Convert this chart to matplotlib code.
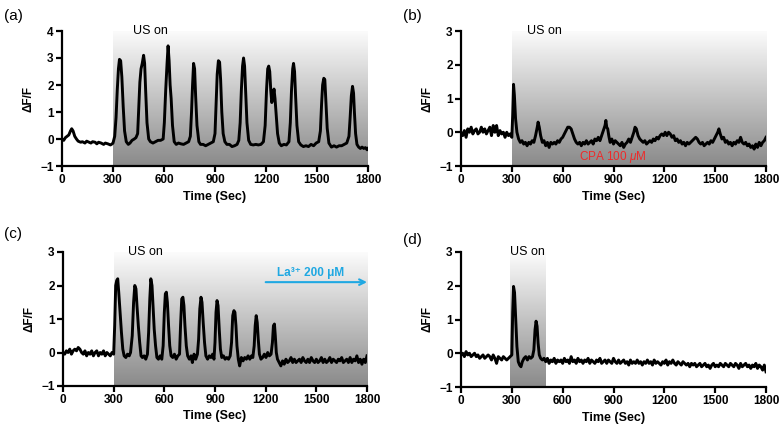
import numpy as np
import matplotlib
matplotlib.use("Agg")
import matplotlib.pyplot as plt
from matplotlib.colors import LinearSegmentedColormap

plt.rcParams['font.family'] = ['Liberation Sans', 'DejaVu Sans']
plt.rcParams['mathtext.fontset'] = 'custom'
plt.rcParams['mathtext.rm'] = 'Liberation Sans'
plt.rcParams['mathtext.it'] = 'Liberation Sans:italic'
plt.rcParams['mathtext.bf'] = 'Liberation Sans:bold'

# ---------------- data (time in s, dF/F) ----------------
trace_a = [(0, 0.0), (10, -0.05), (20, 0.05), (30, 0.1), (40, 0.15), (50, 0.3), (57, 0.38), (65, 0.3),
           (75, 0.1), (85, 0.0), (95, -0.08), (110, -0.12), (120, -0.1), (135, -0.15), (145, -0.08),
           (160, -0.12), (170, -0.15), (180, -0.1), (195, -0.12), (205, -0.18), (215, -0.12), (230, -0.15),
           (245, -0.2), (255, -0.15), (270, -0.18), (285, -0.22), (295, -0.18), (300, -0.15), (310, 0.1),
           (318, 0.8), (325, 1.8), (332, 2.6), (338, 2.95), (345, 2.9), (352, 2.3), (360, 1.2), (368, 0.3),
           (378, -0.1), (390, -0.2), (400, -0.15), (412, -0.05), (425, 0.0), (435, 0.05), (445, 0.2),
           (452, 1.2), (458, 2.1), (465, 2.6), (472, 2.8), (480, 3.1), (486, 2.8), (492, 1.8), (500, 0.6),
           (510, 0.0), (520, -0.1), (535, -0.15), (550, -0.1), (565, -0.05), (580, -0.05), (595, 0.0),
           (602, 0.6), (610, 1.8), (618, 2.8), (624, 3.45), (630, 2.9), (636, 2.0), (642, 1.5), (650, 0.5),
           (660, -0.1), (672, -0.2), (685, -0.15), (700, -0.18), (715, -0.2), (730, -0.15), (745, -0.1),
           (755, 0.1), (762, 1.0), (768, 2.0), (774, 2.8), (780, 2.6), (786, 1.6), (794, 0.5), (805, -0.1),
           (815, -0.2), (830, -0.2), (845, -0.25), (860, -0.2), (875, -0.15), (890, -0.1), (900, 0.2),
           (907, 1.4), (913, 2.4), (920, 2.9), (927, 2.85), (933, 2.2), (940, 1.0), (948, 0.2), (958, -0.1),
           (970, -0.2), (985, -0.2), (1000, -0.28), (1015, -0.25), (1030, -0.2), (1040, -0.05), (1048, 0.6),
           (1055, 1.8), (1062, 2.7), (1068, 3.0), (1074, 2.7), (1080, 1.8), (1088, 0.6), (1098, -0.05),
           (1110, -0.2), (1125, -0.22), (1140, -0.2), (1155, -0.22), (1170, -0.2), (1185, -0.1), (1195, 0.5),
           (1203, 1.8), (1210, 2.6), (1216, 2.7), (1222, 2.5), (1228, 1.8), (1234, 1.35), (1240, 1.5),
           (1247, 1.85), (1253, 1.5), (1260, 0.9), (1268, 0.2), (1278, -0.15), (1290, -0.25), (1305, -0.2),
           (1320, -0.22), (1335, -0.1), (1343, 0.6), (1350, 1.8), (1357, 2.6), (1362, 2.8), (1368, 2.5),
           (1374, 1.6), (1382, 0.5), (1392, -0.1), (1405, -0.22), (1420, -0.28), (1435, -0.25), (1450, -0.28),
           (1465, -0.2), (1480, -0.25), (1495, -0.15), (1510, -0.1), (1520, 0.3), (1527, 1.3), (1533, 2.0),
           (1540, 2.25), (1546, 2.2), (1552, 1.4), (1560, 0.4), (1570, -0.15), (1585, -0.3), (1600, -0.25),
           (1615, -0.3), (1630, -0.25), (1645, -0.25), (1660, -0.2), (1675, -0.15), (1688, 0.1), (1695, 0.8),
           (1702, 1.6), (1709, 1.95), (1715, 1.7), (1720, 1.0), (1727, 0.2), (1735, -0.2), (1745, -0.3),
           (1755, -0.35), (1765, -0.3), (1775, -0.35), (1785, -0.32), (1795, -0.4), (1800, -0.35)]

trace_b = [(0, 0.0), (10, -0.1), (20, 0.05), (30, -0.15), (40, 0.1), (50, 0.0), (60, 0.15), (70, -0.05),
           (80, 0.05), (90, 0.1), (100, -0.05), (110, 0.0), (120, 0.15), (130, 0.0), (140, 0.1), (150, -0.05),
           (160, 0.05), (170, 0.15), (180, -0.1), (190, 0.2), (200, 0.0), (210, 0.2), (220, -0.1), (230, 0.05),
           (240, -0.05), (250, 0.0), (260, -0.15), (270, 0.0), (280, -0.1), (290, -0.05), (300, -0.15),
           (305, 0.5), (310, 1.42), (315, 1.1), (322, 0.4), (330, 0.0), (340, -0.2), (350, -0.3), (360, -0.25),
           (370, -0.35), (380, -0.3), (390, -0.4), (400, -0.3), (410, -0.35), (420, -0.25), (430, -0.3),
           (440, -0.1), (450, 0.15), (455, 0.3), (462, 0.15), (470, -0.1), (480, -0.3), (490, -0.25),
           (500, -0.4), (510, -0.3), (520, -0.45), (530, -0.3), (540, -0.35), (550, -0.3), (560, -0.35),
           (570, -0.25), (580, -0.3), (590, -0.2), (600, -0.15), (610, -0.05), (620, 0.05), (630, 0.15),
           (640, 0.15), (650, 0.1), (660, -0.05), (670, -0.2), (680, -0.3), (690, -0.35), (700, -0.3),
           (710, -0.4), (720, -0.3), (730, -0.35), (740, -0.25), (750, -0.35), (760, -0.3), (770, -0.25),
           (780, -0.35), (790, -0.2), (800, -0.25), (810, -0.15), (820, -0.25), (830, -0.1), (840, 0.05),
           (850, 0.2), (855, 0.35), (860, 0.15), (866, 0.1), (872, -0.1), (880, -0.3), (890, -0.2), (900, -0.35),
           (910, -0.25), (920, -0.3), (930, -0.35), (940, -0.4), (950, -0.3), (960, -0.45), (970, -0.35),
           (980, -0.3), (990, -0.2), (1000, -0.3), (1010, -0.15), (1020, 0.0), (1027, 0.15), (1035, 0.1),
           (1045, -0.1), (1055, -0.2), (1065, -0.25), (1075, -0.3), (1085, -0.25), (1095, -0.35), (1105, -0.3),
           (1115, -0.25), (1125, -0.3), (1135, -0.2), (1145, -0.25), (1155, -0.15), (1165, -0.2), (1175, -0.1),
           (1185, -0.05), (1195, -0.1), (1205, 0.0), (1215, -0.1), (1225, 0.0), (1235, -0.05), (1245, -0.15),
           (1255, -0.1), (1265, -0.25), (1275, -0.2), (1285, -0.3), (1295, -0.25), (1305, -0.35), (1315, -0.3),
           (1325, -0.4), (1335, -0.3), (1345, -0.35), (1355, -0.3), (1365, -0.25), (1375, -0.2), (1385, -0.15),
           (1395, -0.2), (1405, -0.3), (1415, -0.35), (1425, -0.3), (1435, -0.4), (1445, -0.35), (1455, -0.3),
           (1465, -0.35), (1475, -0.25), (1485, -0.3), (1495, -0.2), (1505, -0.1), (1515, 0.0), (1522, 0.1),
           (1530, -0.05), (1540, -0.2), (1550, -0.15), (1560, -0.3), (1570, -0.25), (1580, -0.35), (1590, -0.3),
           (1600, -0.4), (1610, -0.3), (1620, -0.35), (1630, -0.25), (1640, -0.3), (1650, -0.15), (1660, -0.3),
           (1670, -0.35), (1680, -0.3), (1690, -0.4), (1700, -0.35), (1710, -0.45), (1720, -0.4), (1730, -0.5),
           (1740, -0.35), (1750, -0.45), (1760, -0.3), (1770, -0.4), (1780, -0.3), (1790, -0.25), (1800, -0.15)]

trace_c = [(0, 0.0), (10, -0.05), (20, 0.05), (30, 0.0), (40, 0.1), (50, -0.05), (60, 0.05), (70, 0.1),
           (80, 0.05), (90, 0.15), (100, 0.1), (110, 0.0), (120, -0.05), (130, 0.05), (140, -0.1), (150, 0.0),
           (160, -0.05), (170, 0.05), (180, -0.1), (190, 0.0), (200, 0.05), (210, -0.1), (220, 0.0),
           (230, -0.05), (240, 0.05), (250, -0.1), (260, 0.0), (270, -0.05), (280, -0.1), (290, 0.0),
           (300, -0.05), (306, 0.8), (312, 2.0), (318, 2.15), (324, 2.2), (330, 1.8), (338, 1.2), (346, 0.6),
           (354, 0.1), (362, -0.1), (372, -0.15), (382, -0.05), (392, -0.1), (400, 0.0), (410, 0.5), (418, 1.5),
           (425, 2.0), (432, 1.9), (438, 1.4), (446, 0.8), (454, 0.3), (462, -0.1), (470, -0.15), (480, -0.1),
           (490, -0.2), (500, -0.05), (507, 0.6), (514, 1.6), (520, 2.2), (527, 2.0), (533, 1.4), (540, 0.7),
           (548, 0.2), (556, -0.15), (565, -0.2), (575, -0.1), (585, -0.2), (593, 0.2), (600, 1.2), (606, 1.75),
           (612, 1.8), (618, 1.5), (625, 0.8), (632, 0.2), (640, -0.1), (650, -0.15), (660, -0.05), (670, -0.2),
           (680, -0.1), (690, -0.05), (696, 0.8), (703, 1.6), (710, 1.65), (716, 1.4), (722, 0.8), (730, 0.2),
           (738, -0.1), (748, -0.2), (758, -0.1), (766, -0.3), (776, -0.05), (786, -0.2), (796, -0.05),
           (803, 0.4), (810, 1.3), (817, 1.65), (823, 1.5), (830, 0.9), (838, 0.3), (846, -0.1), (856, -0.2),
           (866, -0.1), (876, -0.15), (886, -0.05), (894, -0.2), (900, 0.3), (906, 1.2), (912, 1.55),
           (918, 1.4), (925, 0.7), (932, 0.1), (940, -0.15), (950, -0.1), (960, -0.2), (970, -0.15),
           (980, -0.2), (990, -0.1), (998, 0.3), (1005, 1.1), (1012, 1.25), (1018, 1.2), (1024, 0.8),
           (1030, 0.2), (1038, -0.2), (1046, -0.4), (1056, -0.15), (1066, -0.25), (1076, -0.15), (1086, -0.2),
           (1096, -0.1), (1106, -0.2), (1116, -0.1), (1124, -0.15), (1132, 0.2), (1138, 0.8), (1144, 1.1),
           (1150, 0.9), (1156, 0.4), (1163, -0.05), (1172, -0.2), (1182, -0.15), (1192, -0.05), (1202, -0.15),
           (1212, 0.0), (1222, -0.1), (1232, -0.05), (1240, 0.3), (1246, 0.8), (1252, 0.85), (1257, 0.5),
           (1263, 0.0), (1270, -0.2), (1280, -0.3), (1290, -0.4), (1300, -0.25), (1310, -0.35), (1320, -0.2),
           (1330, -0.3), (1340, -0.25), (1350, -0.15), (1360, -0.3), (1370, -0.2), (1380, -0.3), (1390, -0.25),
           (1400, -0.2), (1410, -0.3), (1420, -0.15), (1430, -0.25), (1440, -0.3), (1450, -0.2), (1460, -0.3),
           (1470, -0.15), (1480, -0.25), (1490, -0.3), (1500, -0.2), (1510, -0.3), (1520, -0.25), (1530, -0.15),
           (1540, -0.3), (1550, -0.2), (1560, -0.3), (1570, -0.25), (1580, -0.15), (1590, -0.3), (1600, -0.2),
           (1610, -0.25), (1620, -0.3), (1630, -0.2), (1640, -0.25), (1650, -0.15), (1660, -0.3), (1670, -0.25),
           (1680, -0.2), (1690, -0.3), (1700, -0.15), (1710, -0.3), (1720, -0.2), (1730, -0.25), (1740, -0.1),
           (1750, -0.3), (1760, -0.2), (1770, -0.35), (1780, -0.2), (1790, -0.3), (1800, -0.1)]

trace_d = [(0, -0.05), (10, 0.0), (20, -0.1), (30, 0.05), (40, -0.05), (50, 0.0), (60, -0.1), (70, -0.05),
           (80, 0.0), (90, -0.1), (100, -0.05), (110, -0.15), (120, -0.1), (130, -0.05), (140, -0.15),
           (150, -0.1), (160, -0.05), (170, -0.1), (180, -0.2), (190, -0.05), (200, -0.15), (210, -0.3),
           (220, -0.1), (230, -0.15), (240, -0.2), (250, -0.1), (260, -0.15), (270, -0.2), (280, -0.15),
           (290, -0.1), (300, -0.05), (305, 1.2), (310, 1.98), (316, 1.8), (322, 1.1), (330, 0.2), (338, -0.25),
           (346, -0.35), (354, -0.4), (362, -0.25), (372, -0.15), (382, -0.1), (392, -0.2), (402, -0.1),
           (412, -0.15), (422, -0.1), (430, 0.1), (437, 0.7), (443, 0.95), (449, 0.8), (455, 0.3), (462, -0.05),
           (470, -0.15), (480, -0.2), (490, -0.15), (500, -0.25), (510, -0.15), (520, -0.3), (530, -0.2),
           (540, -0.25), (550, -0.15), (560, -0.3), (570, -0.2), (580, -0.25), (590, -0.2), (600, -0.3),
           (610, -0.15), (620, -0.25), (630, -0.2), (640, -0.3), (650, -0.1), (660, -0.25), (670, -0.2),
           (680, -0.3), (690, -0.15), (700, -0.25), (710, -0.2), (720, -0.3), (730, -0.2), (740, -0.25),
           (750, -0.15), (760, -0.3), (770, -0.2), (780, -0.25), (790, -0.3), (800, -0.2), (810, -0.25),
           (820, -0.15), (830, -0.3), (840, -0.25), (850, -0.2), (860, -0.3), (870, -0.2), (880, -0.25),
           (890, -0.3), (900, -0.15), (910, -0.25), (920, -0.3), (930, -0.2), (940, -0.3), (950, -0.25),
           (960, -0.2), (970, -0.3), (980, -0.25), (990, -0.35), (1000, -0.2), (1010, -0.3), (1020, -0.25),
           (1030, -0.3), (1040, -0.2), (1050, -0.3), (1060, -0.25), (1070, -0.35), (1080, -0.25), (1090, -0.3),
           (1100, -0.2), (1110, -0.3), (1120, -0.25), (1130, -0.35), (1140, -0.2), (1150, -0.3), (1160, -0.25),
           (1170, -0.3), (1180, -0.35), (1190, -0.25), (1200, -0.3), (1210, -0.2), (1220, -0.35), (1230, -0.25),
           (1240, -0.3), (1250, -0.2), (1260, -0.3), (1270, -0.35), (1280, -0.25), (1290, -0.3), (1300, -0.35),
           (1310, -0.25), (1320, -0.3), (1330, -0.35), (1340, -0.3), (1350, -0.4), (1360, -0.3), (1370, -0.35),
           (1380, -0.3), (1390, -0.4), (1400, -0.35), (1410, -0.3), (1420, -0.4), (1430, -0.35), (1440, -0.3),
           (1450, -0.4), (1460, -0.35), (1470, -0.45), (1480, -0.35), (1490, -0.3), (1500, -0.4), (1510, -0.35),
           (1520, -0.4), (1530, -0.3), (1540, -0.35), (1550, -0.4), (1560, -0.3), (1570, -0.35), (1580, -0.4),
           (1590, -0.3), (1600, -0.35), (1610, -0.4), (1620, -0.3), (1630, -0.35), (1640, -0.45), (1650, -0.3),
           (1660, -0.4), (1670, -0.35), (1680, -0.3), (1690, -0.4), (1700, -0.35), (1710, -0.45), (1720, -0.35),
           (1730, -0.4), (1740, -0.3), (1750, -0.45), (1760, -0.35), (1770, -0.4), (1780, -0.5), (1790, -0.35),
           (1800, -0.55)]

panel_labels = ["(a)", "(b)", "(c)", "(d)"]
us_windows = [(300, 1800), (300, 1800), (300, 1800), (290, 500)]
us_label_x = [518, 490, 491, 395]
y_limits = [(-1, 4), (-1, 3), (-1, 3), (-1, 3)]
x_ticks = [0, 300, 600, 900, 1200, 1500, 1800]

# ---------------- figure ----------------
W, H = 782, 426
fig = plt.figure(figsize=(W / 100, H / 100), dpi=100)

boxes = [(62, 368, 31, 166), (461, 766, 31, 166), (63, 367, 252, 386), (461, 766, 252, 387)]
traces = [trace_a, trace_b, trace_c, trace_d]
label_pos = [(4, 16), (403, 16), (4, 234), (403, 240)]

cmap = LinearSegmentedColormap.from_list("us", ["#fcfcfc", "#8a8a8a"])
grad = np.linspace(0, 1, 256).reshape(-1, 1)

for i, (l, r, t, b) in enumerate(boxes):
    ax = fig.add_axes([l / W, 1 - b / H, (r - l) / W, (b - t) / H])
    y0, y1 = y_limits[i]
    x0, x1 = us_windows[i]
    ax.imshow(grad, cmap=cmap, aspect='auto', extent=[x0, x1, y0, y1],
              origin='upper', zorder=0, interpolation='bilinear')
    tt, yy = zip(*traces[i])
    ax.plot(tt, yy, color='black', lw=2.1, zorder=3, solid_joinstyle='round')
    ax.set_xlim(0, 1800)
    ax.set_ylim(y0, y1)
    ax.set_xticks(x_ticks)
    ax.set_yticks(range(y0, y1 + 1))
    for s in ['top', 'right']:
        ax.spines[s].set_visible(False)
    for s in ['left', 'bottom']:
        ax.spines[s].set_linewidth(1.6)
    ax.tick_params(direction='out', length=4, width=1.6, labelsize=8.5, pad=2)
    for lab in ax.get_xticklabels() + ax.get_yticklabels():
        lab.set_fontweight('bold')
    ax.set_xlabel("Time (Sec)", fontsize=9, fontweight='bold', labelpad=3)
    ax.set_ylabel("ΔF/F", fontsize=8.5, fontweight='bold', labelpad=4)
    ax.text(us_label_x[i], y1, "US on", ha='center', va='center', fontsize=9, zorder=4)
    ax.set_facecolor('none')
    fig.text(label_pos[i][0] / W, 1 - label_pos[i][1] / H, panel_labels[i],
             fontsize=11, ha='left', va='center')

    if i == 1:
        ax.text(897, -0.74, "CPA 100 $\\mathit{\\mu}$M", color='#ee2a2a', ha='center', va='center',
                fontsize=8.5, zorder=4)
    if i == 2:
        ax.text(1468, 2.37, "La³⁺ 200 μM", color='#1fa8e2', ha='center', va='center',
                fontsize=8.5, fontweight='bold', zorder=4)
        ax.annotate("", xy=(1800, 2.1), xytext=(1200, 2.1),
                    arrowprops=dict(arrowstyle='->', color='#1fa8e2', lw=1.5,
                                    shrinkA=0, shrinkB=0), zorder=4, annotation_clip=False)

fig.savefig("out.png", dpi=100)
